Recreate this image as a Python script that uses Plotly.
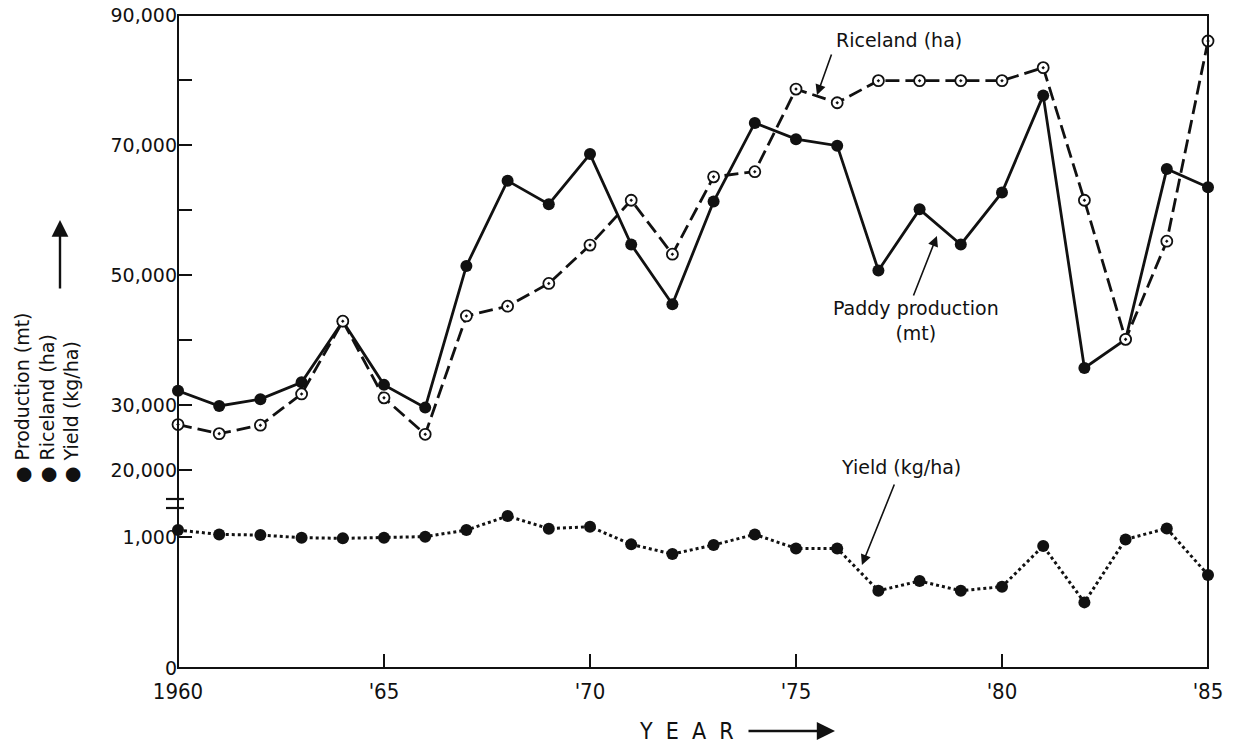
import plotly.graph_objects as go

years = list(range(1960, 1986))
production = [32200, 29850, 30900, 33500, 42900, 33100, 29600, 51400, 64500, 60900,
              68600, 54700, 45500, 61300, 73400, 70900, 69900, 50700, 60100, 54700,
              62700, 77600, 35700, 40100, 66300, 63500]
riceland = [27000, 25600, 26900, 31700, 42900, 31100, 25500, 43700, 45200, 48700,
            54600, 61500, 53200, 65100, 65900, 78600, 76500, 79900, 79900, 79900,
            79900, 81900, 61500, 40100, 55200, 86000]
yield_kg = [1053, 1020, 1015, 995, 990, 995, 1003, 1053, 1160, 1064,
            1079, 944, 870, 939, 1020, 913, 913, 590, 664, 590,
            621, 931, 501, 982, 1066, 710]

x_tickvals = [1960, 1965, 1970, 1975, 1980, 1985]
x_ticktext = ["1960", "'65", "'70", "'75", "'80", "'85"]
upper_tickvals = [20000, 30000, 40000, 50000, 60000, 70000, 80000, 90000]
upper_ticktext = ["20,000", "30,000", "", "50,000", "", "70,000", "", "90,000"]
lower_tickvals = [0, 1000]
lower_ticktext = ["0", "1,000"]

INK = "#111111"
FONT = "'DejaVu Sans', Lato, sans-serif"
NARROW = "'Liberation Sans Narrow', 'DejaVu Sans Condensed', 'Roboto Condensed', Lato, sans-serif"

# figure geometry (pixels)
W, H = 1235, 745
ML, MR, MT, MB = 178, 27, 15, 77
PW, PH = W - ML - MR, H - MT - MB
BREAK = 0.2511  # fraction of plot height where axis is broken

fig = go.Figure()

fig.add_trace(go.Scatter(
    x=years, y=production, yaxis="y", mode="lines+markers", name="Paddy production (mt)",
    line=dict(color=INK, width=2.8),
    marker=dict(symbol="circle", size=12, color=INK),
    cliponaxis=False, showlegend=False))

fig.add_trace(go.Scatter(
    x=years, y=riceland, yaxis="y", mode="lines+markers", name="Riceland (ha)",
    line=dict(color=INK, width=2.8, dash="14px,6px"),
    marker=dict(symbol="circle-dot", size=11, color="white", line=dict(color=INK, width=1.8)),
    cliponaxis=False, showlegend=False))

fig.add_trace(go.Scatter(
    x=years, y=yield_kg, yaxis="y2", mode="lines+markers", name="Yield (kg/ha)",
    line=dict(color=INK, width=3, dash="dot"),
    marker=dict(symbol="circle", size=12, color=INK),
    cliponaxis=False, showlegend=False))

axis_common = dict(showgrid=False, zeroline=False, showline=False, automargin=False,
                   ticks="inside", ticklen=14, tickwidth=2, tickcolor=INK)

fig.update_layout(
    width=W, height=H,
    margin=dict(l=ML, r=MR, t=MT, b=MB, autoexpand=False),
    paper_bgcolor="white", plot_bgcolor="white",
    font=dict(family=FONT, color=INK, size=18),
    xaxis=dict(range=[1960, 1985], tickvals=x_tickvals, ticktext=x_ticktext,
               anchor="y2", tickfont=dict(family=NARROW, size=22, color=INK),
               ticklabelstandoff=8, **axis_common),
    yaxis=dict(domain=[BREAK, 1], range=[14769, 90000], tickvals=upper_tickvals,
               ticktext=upper_ticktext, anchor="x",
               tickfont=dict(family=FONT, size=19, color=INK), **axis_common),
    yaxis2=dict(domain=[0, BREAK], range=[0, 1252], tickvals=lower_tickvals,
                ticktext=lower_ticktext, anchor="x",
                tickfont=dict(family=FONT, size=19, color=INK), **axis_common),
)

def px_x(px):
    return (px - ML) / PW

def px_y(py):
    return (H - MB - py) / PH

shapes = [
    dict(type="rect", xref="paper", yref="paper", x0=0, x1=1, y0=0, y1=1,
         line=dict(color=INK, width=2)),
    dict(type="line", xref="paper", yref="paper", x0=px_x(166), x1=px_x(184),
         y0=px_y(499), y1=px_y(499), line=dict(color=INK, width=2.2)),
    dict(type="line", xref="paper", yref="paper", x0=px_x(166), x1=px_x(184),
         y0=px_y(508), y1=px_y(508), line=dict(color=INK, width=2.2)),
]
fig.update_layout(shapes=shapes)

ann = []
# series labels
ann.append(dict(text="Riceland (ha)", xref="paper", yref="paper", x=px_x(899), y=px_y(40),
                xanchor="center", yanchor="middle", showarrow=False, font=dict(size=19)))
ann.append(dict(text="", x=1975.51, y=77690, xref="x", yref="y", showarrow=True,
                ax=15, ay=-42, arrowhead=2, arrowsize=1.3, arrowwidth=1.6, arrowcolor=INK))
ann.append(dict(text="Paddy production<br>(mt)", xref="paper", yref="paper", x=px_x(916), y=px_y(320),
                xanchor="center", yanchor="middle", showarrow=False, font=dict(size=19)))
ann.append(dict(text="", x=1978.42, y=56000, xref="x", yref="y", showarrow=True,
                ax=-24, ay=61, arrowhead=2, arrowsize=1.3, arrowwidth=1.6, arrowcolor=INK))
ann.append(dict(text="Yield (kg/ha)", xref="paper", yref="paper", x=px_x(901), y=px_y(467),
                xanchor="center", yanchor="middle", showarrow=False, font=dict(size=19)))
ann.append(dict(text="", x=1976.6, y=786, xref="x", yref="y2", showarrow=True,
                ax=33, ay=-82, arrowhead=2, arrowsize=1.3, arrowwidth=1.6, arrowcolor=INK))
# y-axis title
ann.append(dict(text="● Production (mt)<br>● Riceland (ha)<br>● Yield (kg/ha)",
                xref="paper", yref="paper", x=px_x(47), y=px_y(398), textangle=-90,
                xanchor="center", yanchor="middle",
                showarrow=False, align="left", font=dict(size=19)))
ann.append(dict(text="", xref="paper", yref="paper", x=px_x(60), y=px_y(220), showarrow=True,
                ax=0, ay=70, arrowhead=2, arrowsize=1.4, arrowwidth=2.4, arrowcolor=INK))
# x-axis title
ann.append(dict(text="Y  E  A  R", xref="paper", yref="paper", x=px_x(686), y=px_y(731),
                xanchor="center", yanchor="middle",
                showarrow=False, font=dict(family=NARROW, size=23)))
ann.append(dict(text="", xref="paper", yref="paper", x=px_x(835), y=px_y(731), showarrow=True,
                ax=-88, ay=0, arrowhead=2, arrowsize=1.4, arrowwidth=2.6, arrowcolor=INK))
fig.update_layout(annotations=ann)

fig.write_html("out.html", config={"displayModeBar": False},
               post_script="document.body.style.margin='0px';")
